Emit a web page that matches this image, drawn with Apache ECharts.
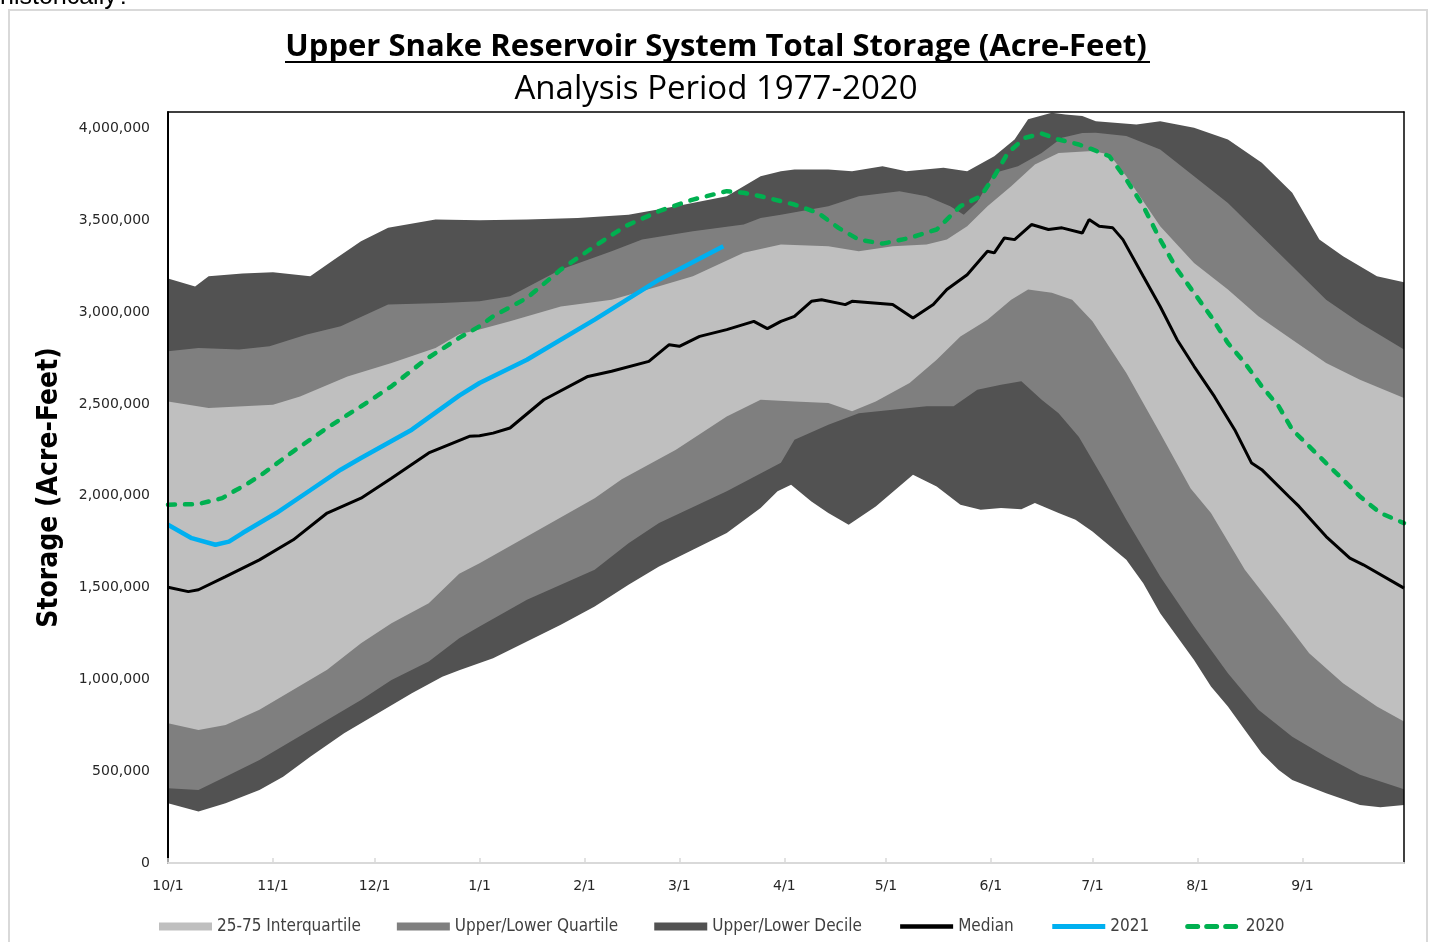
<!DOCTYPE html>
<html>
<head>
    <meta charset="utf-8">
    <title>Upper Snake Reservoir System Total Storage</title>
    <script src="https://cdn.jsdelivr.net/npm/echarts@6/dist/echarts.min.js"></script>
    <style>
        html, body { margin: 0; padding: 0; background: #fff; }
        #main { width: 1432px; height: 942px; }
    </style>
</head>
<body>
<div id="main"></div>
<script type="text/javascript">
    // water year: day 0 = 10/1, day 365 = end of 9/30
    var tickDays = [0, 31, 61, 92, 123, 151, 182, 212, 243, 273, 304, 335];
    var tickLabels = ['10/1', '11/1', '12/1', '1/1', '2/1', '3/1', '4/1', '5/1', '6/1', '7/1', '8/1', '9/1'];

    // band boundaries [day, acre-feet]
    var maxStorage = [[0,3183000],[8,3140000],[12,3195000],[22,3210000],[31,3217000],[42,3195000],[49,3286000],[57,3386000],[65,3459000],[79,3504000],[92,3500000],[106,3504000],[121,3513000],[136,3531000],[150,3577000],[165,3631000],[175,3740000],[181,3767000],[185,3777000],[195,3777000],[202,3767000],[211,3795000],[218,3767000],[229,3786000],[236,3767000],[244,3849000],[250,3940000],[254,4050000],[261,4086000],[265,4077000],[270,4068000],[274,4040000],[286,4022000],[293,4040000],[303,4004000],[313,3940000],[323,3813000],[332,3650000],[340,3395000],[347,3304000],[357,3195000],[365,3163000]];
    var p90 = [[0,2787000],[9,2805000],[21,2796000],[30,2814000],[41,2878000],[51,2923000],[65,3041000],[81,3050000],[92,3059000],[101,3086000],[116,3232000],[131,3332000],[140,3395000],[155,3440000],[170,3477000],[175,3513000],[181,3531000],[195,3577000],[204,3631000],[216,3659000],[224,3631000],[231,3577000],[235,3531000],[239,3600000],[244,3758000],[251,3795000],[258,3867000],[264,3950000],[270,3975000],[274,3977000],[283,3959000],[293,3886000],[303,3740000],[313,3595000],[322,3431000],[332,3250000],[342,3068000],[352,2941000],[365,2796000]];
    var p75 = [[0,2514000],[12,2478000],[31,2496000],[39,2541000],[53,2650000],[66,2723000],[79,2805000],[86,2880000],[92,2905000],[101,2950000],[116,3031000],[131,3068000],[145,3141000],[155,3195000],[170,3323000],[181,3368000],[195,3359000],[204,3332000],[214,3359000],[224,3368000],[230,3395000],[236,3468000],[242,3577000],[249,3686000],[256,3804000],[263,3867000],[273,3877000],[278,3858000],[283,3740000],[293,3468000],[303,3268000],[313,3123000],[322,2977000],[332,2850000],[342,2723000],[352,2632000],[365,2532000]];
    var p25 = [[0,761000],[9,725000],[17,752000],[27,834000],[37,943000],[47,1052000],[57,1197000],[66,1306000],[77,1415000],[86,1575000],[92,1633000],[106,1778000],[126,1987000],[134,2090000],[150,2251000],[165,2432000],[175,2523000],[185,2514000],[195,2505000],[202,2460000],[209,2514000],[219,2614000],[227,2741000],[234,2868000],[242,2959000],[249,3068000],[254,3123000],[261,3105000],[267,3068000],[273,2950000],[283,2668000],[293,2341000],[302,2040000],[308,1906000],[318,1597000],[328,1360000],[337,1142000],[347,979000],[357,852000],[365,770000]];
    var p10 = [[0,407000],[9,398000],[17,470000],[27,561000],[37,670000],[47,779000],[57,888000],[66,997000],[77,1097000],[86,1224000],[92,1288000],[106,1433000],[126,1597000],[136,1742000],[145,1851000],[165,2024000],[181,2180000],[185,2305000],[195,2387000],[204,2450000],[214,2469000],[224,2487000],[232,2487000],[239,2578000],[246,2605000],[252,2623000],[258,2523000],[263,2450000],[269,2320000],[276,2100000],[283,1869000],[293,1560000],[303,1288000],[313,1033000],[322,834000],[332,688000],[342,579000],[352,480000],[365,402000]];
    var minStorage = [[0,325000],[9,280000],[17,325000],[27,398000],[34,470000],[42,579000],[52,707000],[62,816000],[72,924000],[81,1015000],[86,1050000],[96,1115000],[106,1206000],[116,1297000],[126,1397000],[136,1515000],[145,1615000],[155,1706000],[165,1797000],[175,1933000],[180,2024000],[184,2060000],[190,1969000],[195,1906000],[201,1842000],[209,1942000],[220,2115000],[227,2051000],[234,1951000],[240,1924000],[246,1933000],[252,1927000],[256,1960000],[263,1906000],[268,1869000],[273,1806000],[283,1651000],[288,1524000],[293,1360000],[303,1106000],[308,961000],[313,852000],[318,725000],[323,598000],[328,507000],[332,452000],[342,380000],[352,316000],[358,304000],[365,316000]];

    var median = [[0,1502000],[6,1478000],[9,1488000],[17,1560000],[27,1651000],[37,1760000],[47,1906000],[57,1987000],[66,2096000],[77,2233000],[89,2324000],[92,2327000],[96,2341000],[101,2369000],[111,2523000],[124,2650000],[131,2678000],[142,2732000],[148,2823000],[151,2814000],[157,2868000],[165,2905000],[173,2950000],[177,2910000],[181,2950000],[185,2977000],[190,3059000],[193,3068000],[200,3041000],[202,3059000],[214,3041000],[220,2968000],[226,3041000],[230,3123000],[236,3204000],[242,3332000],[244,3323000],[247,3404000],[250,3395000],[255,3477000],[260,3450000],[264,3459000],[270,3431000],[272,3504000],[275,3468000],[279,3459000],[282,3395000],[288,3195000],[293,3031000],[298,2850000],[303,2705000],[309,2541000],[315,2360000],[320,2178000],[323,2142000],[331,1996000],[334,1942000],[342,1778000],[349,1660000],[353,1624000],[365,1497000]];
    var wy2021 = [[0,1842000],[7,1769000],[14,1733000],[18,1750000],[22,1797000],[32,1906000],[42,2030000],[51,2142000],[57,2206000],[72,2360000],[86,2545000],[92,2614000],[106,2741000],[126,2959000],[145,3177000],[164,3359000]];
    var wy2020 = [[0,1951000],[9,1955000],[16,1987000],[20,2030000],[23,2060000],[28,2120000],[37,2242000],[47,2370000],[57,2487000],[66,2596000],[76,2741000],[86,2860000],[92,2923000],[96,2977000],[106,3077000],[116,3232000],[126,3359000],[135,3468000],[145,3550000],[155,3613000],[165,3659000],[170,3650000],[175,3631000],[181,3604000],[185,3586000],[192,3540000],[198,3459000],[204,3395000],[211,3373000],[219,3404000],[227,3450000],[234,3577000],[240,3631000],[244,3740000],[248,3867000],[253,3949000],[258,3973000],[263,3940000],[269,3913000],[273,3886000],[278,3849000],[283,3722000],[288,3577000],[293,3395000],[298,3232000],[303,3105000],[308,2977000],[313,2832000],[318,2723000],[323,2596000],[328,2487000],[332,2360000],[337,2269000],[342,2178000],[349,2051000],[352,1996000],[358,1906000],[365,1851000]];

    var LIGHT = '#bfbfbf', MID = '#7f7f7f', DARK = '#525252';
    var narrow = "'Liberation Sans Narrow', 'DejaVu Sans Condensed', 'Noto Sans', sans-serif";

    // filled band: each boundary filled down to 0, drawn top to bottom
    function band(name, data, color) {
        return {
            name: name,
            type: 'line',
            data: data,
            symbol: 'none',
            silent: true,
            itemStyle: { color: color },
            lineStyle: { width: 0, color: color },
            areaStyle: { color: color, opacity: 1 }
        };
    }

    var myChart = echarts.init(document.getElementById('main'));
    var option = {
        animation: false,
        backgroundColor: '#fff',
        title: [
            {
                text: 'Upper Snake Reservoir System Total Storage (Acre-Feet)',
                left: 'center', top: 27,
                textStyle: { fontFamily: 'Open Sans', fontWeight: 'bold', fontSize: 31, color: '#000' }
            },
            {
                text: 'Analysis Period 1977-2020',
                left: 'center', top: 68,
                textStyle: { fontFamily: 'Open Sans', fontWeight: 'normal', fontSize: 33, color: '#000' }
            }
        ],
        graphic: [
            { type: 'rect', z: -1, shape: { x: 9, y: 10, width: 1418, height: 940 }, style: { fill: 'none', stroke: '#d9d9d9', lineWidth: 2 } },
            { type: 'text', left: 0, top: -15, style: { text: 'historically?', fontFamily: 'Liberation Sans', fontSize: 25, fill: '#000' } },
            { type: 'line', shape: { x1: 285, y1: 62, x2: 1150, y2: 62 }, style: { stroke: '#000', lineWidth: 2 } }
        ],
        legend: {
            left: 154, top: 913,
            itemWidth: 53, itemHeight: 8, itemGap: 36,
            textStyle: { fontFamily: narrow, fontSize: 17, color: '#404040' },
            data: [
                { name: '25-75 Interquartile', icon: 'rect' },
                { name: 'Upper/Lower Quartile', icon: 'rect' },
                { name: 'Upper/Lower Decile', icon: 'rect' },
                { name: 'Median', itemStyle: { opacity: 0 }, lineStyle: { width: 4.5 } },
                { name: '2021', itemStyle: { opacity: 0 }, lineStyle: { width: 5 } },
                { name: '2020', itemStyle: { opacity: 0 }, lineStyle: { width: 5, type: [10, 9], cap: 'round' } }
            ]
        },
        grid: { left: 168, right: 28, top: 112, bottom: 79 },
        xAxis: [
            {
                type: 'value', min: 0, max: 365, z: 10,
                axisLine: { onZero: false, lineStyle: { color: '#d9d9d9', width: 2 } },
                axisTick: { inside: true, length: 5, customValues: tickDays, lineStyle: { color: '#d9d9d9', width: 1.5 } },
                axisLabel: {
                    customValues: tickDays, margin: 16,
                    fontFamily: 'DejaVu Sans', fontSize: 14, color: '#262626',
                    formatter: function (v) { return tickLabels[tickDays.indexOf(v)]; }
                },
                splitLine: { show: false }
            },
            {
                type: 'value', min: 0, max: 365, position: 'top', z: 10,
                axisLine: { onZero: false, lineStyle: { color: '#000', width: 1.5 } },
                axisTick: { show: false }, axisLabel: { show: false }, splitLine: { show: false }
            }
        ],
        yAxis: [
            {
                type: 'value', min: 0, max: 4090000, interval: 500000, z: 10,
                name: 'Storage (Acre-Feet)', nameLocation: 'middle', nameGap: 104,
                nameTextStyle: { fontFamily: narrow, fontWeight: 'bold', fontSize: 28, color: '#000' },
                axisLine: { show: true, onZero: false, lineStyle: { color: '#000', width: 2 } },
                axisTick: { show: false },
                axisLabel: {
                    showMaxLabel: false, margin: 18,
                    fontFamily: 'DejaVu Sans', fontSize: 14, color: '#262626',
                    formatter: function (v) { return v.toString().replace(/\B(?=(\d{3})+(?!\d))/g, ','); }
                },
                splitLine: { show: false }
            },
            {
                type: 'value', min: 0, max: 4090000, position: 'right', z: 10,
                axisLine: { show: true, onZero: false, lineStyle: { color: '#000', width: 1.5 } },
                axisTick: { show: false }, axisLabel: { show: false }, splitLine: { show: false }
            }
        ],
        series: [
            band('Upper/Lower Decile', maxStorage, DARK),
            band('Upper/Lower Quartile', p90, MID),
            band('25-75 Interquartile', p75, LIGHT),
            band('Lower Quartile', p25, MID),
            band('Lower Decile', p10, DARK),
            band('Minimum', minStorage, '#ffffff'),
            {
                name: 'Median', type: 'line', data: median, symbol: 'none',
                itemStyle: { color: '#000' },
                lineStyle: { color: '#000', width: 3 }
            },
            {
                name: '2021', type: 'line', data: wy2021, symbol: 'none',
                itemStyle: { color: '#00b0f0' },
                lineStyle: { color: '#00b0f0', width: 4.5 }
            },
            {
                name: '2020', type: 'line', data: wy2020, symbol: 'none',
                itemStyle: { color: '#00b050' },
                lineStyle: { color: '#00b050', width: 4.5, type: [7, 10], cap: 'round' }
            }
        ]
    };
    myChart.setOption(option);
</script>
</body>
</html>
